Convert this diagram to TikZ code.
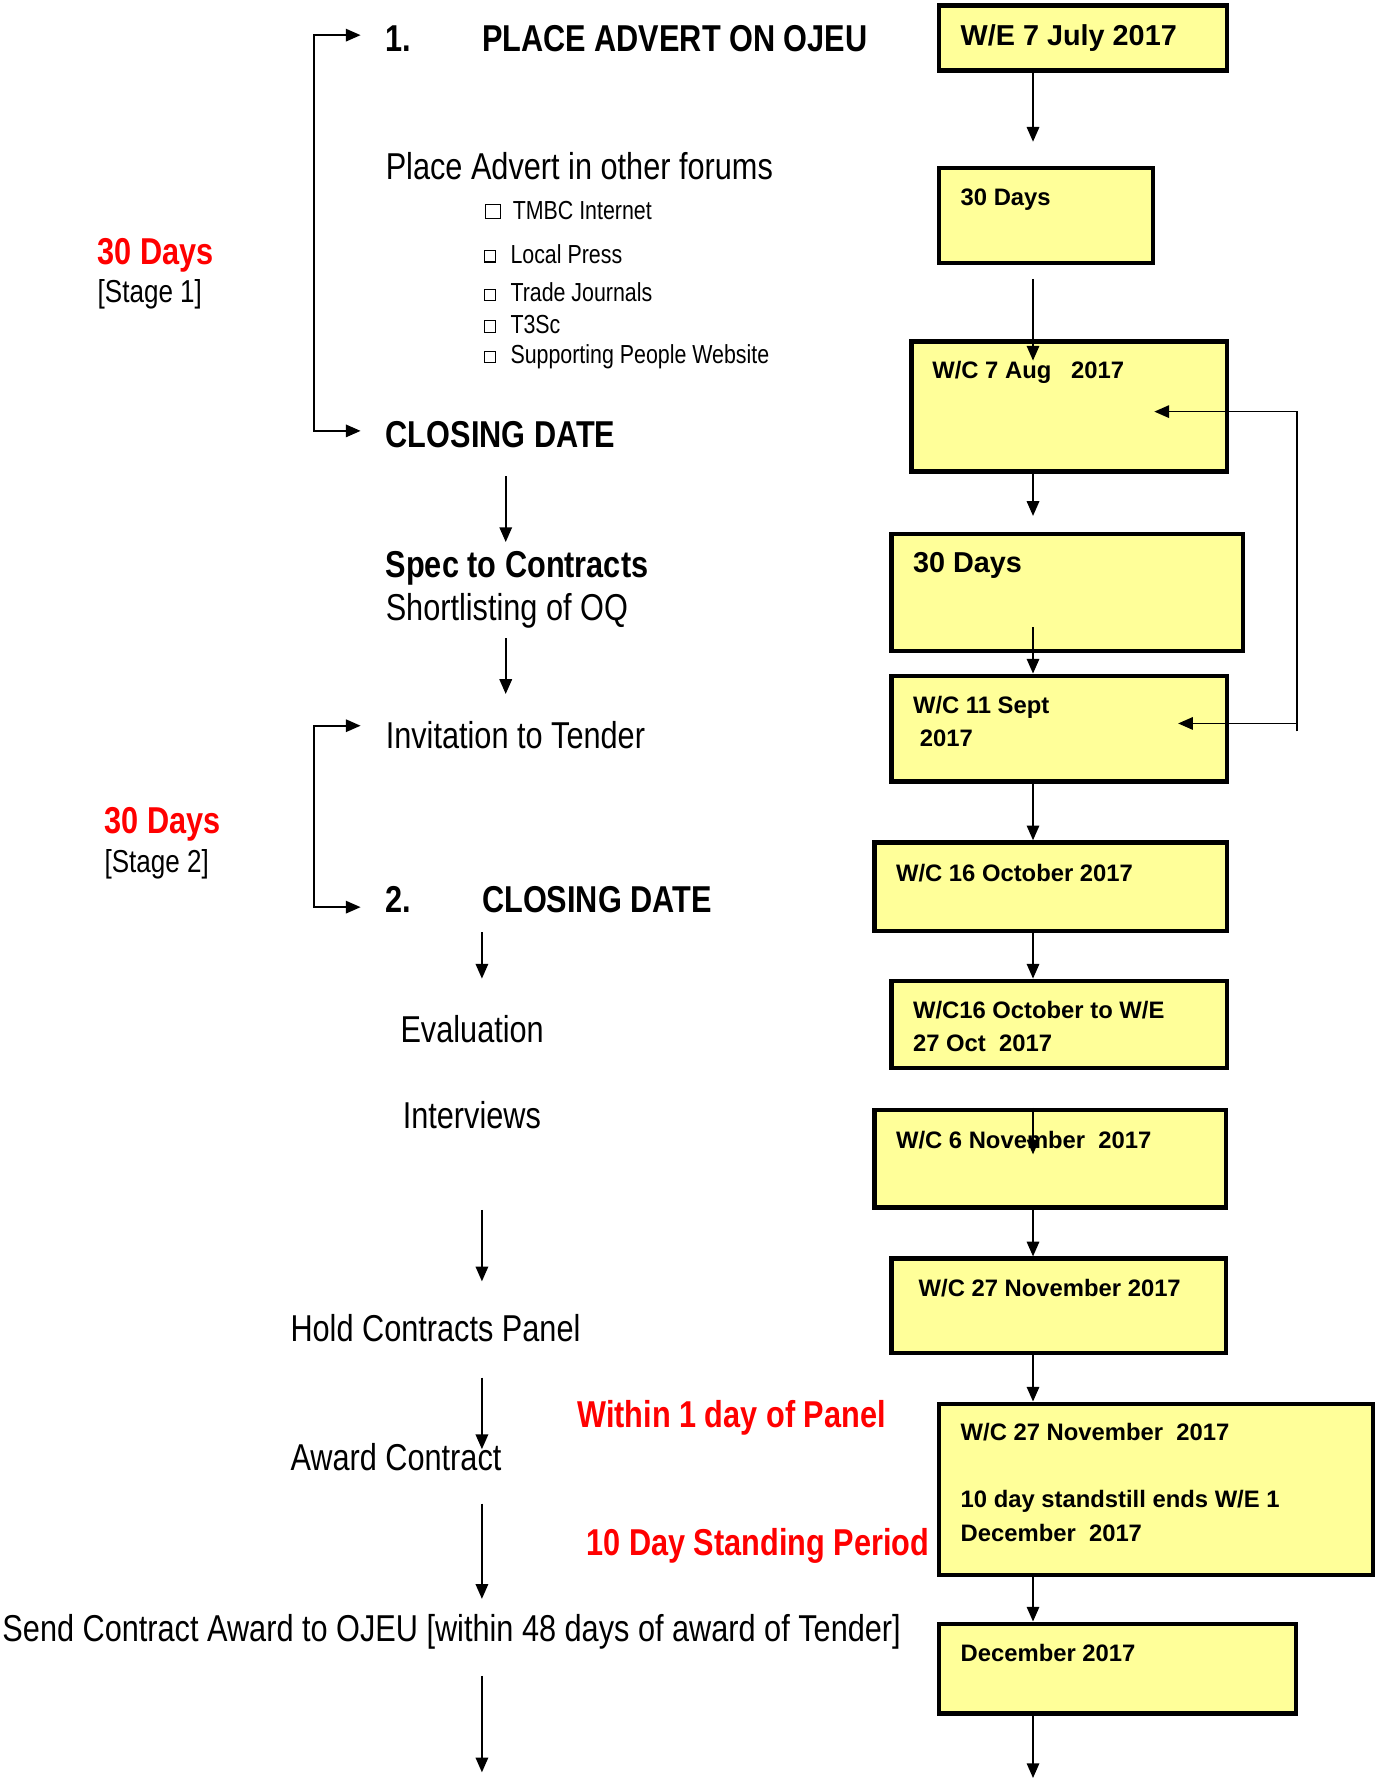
\documentclass[tikz,border=0pt]{standalone}
\usepackage{fontspec}
\setmainfont{Liberation Sans}
\newfontfamily\narrowf[FakeStretch=0.82]{Liberation Sans}
\usetikzlibrary{arrows.meta}
\definecolor{boxyellow}{HTML}{FFFF99}
\definecolor{redlabel}{HTML}{FF0000}
\begin{document}
\begin{tikzpicture}[x=1pt,y=-1pt,
  box/.style={draw, line width=4pt, fill=boxyellow, inner sep=0pt},
  btxt/.style={font=\bfseries\fontsize{21}{25}\selectfont, anchor=base west, inner sep=0pt},
  btxtL/.style={font=\bfseries\fontsize{25.4}{30}\selectfont, anchor=base west, inner sep=0pt},
  head/.style={font=\narrowf\bfseries\fontsize{33}{38}\selectfont, anchor=base west, inner sep=0pt},
  plain/.style={font=\narrowf\fontsize{33}{38}\selectfont, anchor=base west, inner sep=0pt},
  itemtxt/.style={font=\narrowf\fontsize{23}{27}\selectfont, anchor=base west, inner sep=0pt},
  stagetxt/.style={font=\narrowf\fontsize{28}{32}\selectfont, anchor=base west, inner sep=0pt},
  redhead/.style={head, text=redlabel},
  chk/.style={draw, line width=1pt, inner sep=0pt, fill=white},
  arr/.style={line width=1.5pt, -{Triangle[length=13pt,width=11pt]}},
  bracket/.style={line width=1.5pt, {Triangle[length=13pt,width=11pt]}-{Triangle[length=13pt,width=11pt]}}
]
\useasboundingbox (0,0) rectangle (1213,1568);

% ---------------- right column boxes ----------------
\node[box, minimum width=254pt, minimum height=57pt]  (b1)  at (955,33.5)    {};
\node[box, minimum width=189pt, minimum height=84pt]  (b2)  at (922.5,190)   {};
\node[box, minimum width=278pt, minimum height=115pt] (b3)  at (943,358.5)   {};
\node[box, minimum width=310pt, minimum height=103pt] (b4)  at (941,522.5)   {};
\node[box, minimum width=296pt, minimum height=93pt]  (b5)  at (934,642.5)   {};
\node[box, minimum width=311pt, minimum height=78pt]  (b6)  at (926.5,782)   {};
\node[box, minimum width=296pt, minimum height=77pt]  (b7)  at (934,903.5)   {};
\node[box, minimum width=310pt, minimum height=86pt]  (b8)  at (926,1022)    {};
\node[box, minimum width=295pt, minimum height=83pt]  (b9)  at (933.5,1151.5){};
\node[box, minimum width=383pt, minimum height=151pt] (b10) at (1019.5,1313.5){};
\node[box, minimum width=315pt, minimum height=79pt]  (b11) at (985.5,1471.5) {};

% box texts
\node[btxtL] (t1)  at (847,40)     {W/E 7 July 2017};
\node[btxt]  (t2)  at (847,181.5)  {30 Days};
\node[btxt]  (t3)  at (822,333.5)  {W/C 7 Aug\ \ \ 2017};
\node[btxtL] (t4)  at (805,505)    {30 Days};
\node[btxt]  (t5a) at (805,629.5)  {W/C 11 Sept};
\node[btxt]  (t5b) at (811,658.5)  {2017};
\node[btxt]  (t6)  at (790,777.5)  {W/C 16 October 2017};
\node[btxt]  (t7a) at (805,898.5)  {W/C16 October to W/E};
\node[btxt]  (t7b) at (805,927.5)  {27 Oct\ \ 2017};
\node[btxt]  (t8)  at (790,1012.5) {W/C 6 November\ \ 2017};
\node[btxt]  (t9)  at (810,1143.5) {W/C 27 November 2017};
\node[btxt]  (t10a) at (847,1270.5) {W/C 27 November\ \ 2017};
\node[btxt]  (t10b) at (847,1329.5) {10 day standstill ends W/E 1};
\node[btxt]  (t10c) at (847,1359.5) {December\ \ 2017};
\node[btxt]  (t11) at (847,1465.5) {December 2017};

% right column connectors
\coordinate (ax) at (911,0);
\coordinate (r1e) at (911,125);
\coordinate (r2s) at (911,246);
\coordinate (r2e) at (911,318);
\coordinate (r3e) at (911,455);
\coordinate (r4s) at (911,553);
\coordinate (r8e) at (911,1018);
\coordinate (r11e) at (911,1568);
\draw[arr] (b1.south -| ax) -- (r1e);
\draw[arr] (r2s) -- (r2e);
\draw[arr] (b3.south -| ax) -- (r3e);
\draw[arr] (r4s) -- (b5.north -| ax);
\draw[arr] (b5.south -| ax) -- (b6.north -| ax);
\draw[arr] (b6.south -| ax) -- (b7.north -| ax);
\draw[arr] (b8.north -| ax) -- (r8e);
\draw[arr] (b8.south -| ax) -- (b9.north -| ax);
\draw[arr] (b9.south -| ax) -- (b10.north -| ax);
\draw[arr] (b10.south -| ax) -- (b11.north -| ax);
\draw[arr] (b11.south -| ax) -- (r11e);

% feedback loop
\coordinate (fbBot) at (1144,645);
\coordinate (fbCorner) at (1144,363);
\coordinate (fbA) at (1018,363);
\coordinate (fbJ) at (1144,638);
\coordinate (fbB) at (1039,638);
\draw[arr] (fbBot) -- (fbCorner) -- (fbA);
\draw[arr] (fbJ) -- (fbB);

% ---------------- left column ----------------
\node[head]  (n1)    at (340,45)  {1.};
\node[head]  (ojeu)  at (425,45)  {PLACE ADVERT ON OJEU};
\node[plain] (other) at (340,158) {Place Advert in other forums};

\node[chk, minimum size=13pt] (c1) at (434.5,186.5) {};
\node[chk, minimum size=10pt] (c2) at (432,226) {};
\node[chk, minimum size=10pt] (c3) at (432,260) {};
\node[chk, minimum size=10pt] (c4) at (432,288) {};
\node[chk, minimum size=10pt] (c5) at (432,315) {};
\node[itemtxt] (i1) at (452,194) {TMBC Internet};
\node[itemtxt] (i2) at (450,232) {Local Press};
\node[itemtxt] (i3) at (450,266) {Trade Journals};
\node[itemtxt] (i4) at (450,294) {T3Sc};
\node[itemtxt] (i5) at (450,321) {Supporting People Website};

\node[head]  (close1) at (340,395) {CLOSING DATE};
\node[head]  (spec)   at (340,509) {Spec to Contracts};
\node[plain] (short)  at (340,547) {Shortlisting of OQ};
\node[plain] (itt)    at (340,660) {Invitation to Tender};
\node[head]  (n2)     at (340,805) {2.};
\node[head]  (close2) at (425,805) {CLOSING DATE};
\node[plain] (eval)   at (353,919) {Evaluation};
\node[plain] (interv) at (355,995) {Interviews};
\node[plain] (hold)   at (256,1183) {Hold Contracts Panel};
\node[plain] (award)  at (256,1297) {Award Contract};
\node[plain] (send)   at (2,1448)  {Send Contract Award to OJEU [within 48 days of award of Tender]};

% red labels
\node[redhead]  (d1) at (86,233)  {30 Days};
\node[stagetxt] (s1) at (86,267)  {[Stage 1]};
\node[redhead]  (d2) at (92,735)  {30 Days};
\node[stagetxt] (s2) at (92,769)  {[Stage 2]};
\node[redhead]  (within) at (509,1259) {Within 1 day of Panel};
\node[redhead]  (stand)  at (517,1372) {10 Day Standing Period};

% brackets
\coordinate (k1a) at (318,31);
\coordinate (k1b) at (318,380);
\coordinate (k2a) at (318,640);
\coordinate (k2b) at (318,800);
\draw[bracket] (k1a) -- (277,31) -- (277,380) -- (k1b);
\draw[bracket] (k2a) -- (277,640) -- (277,800) -- (k2b);

% left column connectors
\coordinate (l1s) at (446,420);  \coordinate (l1e) at (446,478);
\coordinate (l2s) at (446,563);  \coordinate (l2e) at (446,612);
\coordinate (l3s) at (425,822);  \coordinate (l3e) at (425,863);
\coordinate (l4s) at (425,1067); \coordinate (l4e) at (425,1130);
\coordinate (l5s) at (425,1215); \coordinate (l5e) at (425,1278);
\coordinate (l6s) at (425,1326); \coordinate (l6e) at (425,1410);
\coordinate (l7s) at (425,1478); \coordinate (l7e) at (425,1563);
\draw[arr] (l1s) -- (l1e);
\draw[arr] (l2s) -- (l2e);
\draw[arr] (l3s) -- (l3e);
\draw[arr] (l4s) -- (l4e);
\draw[arr] (l5s) -- (l5e);
\draw[arr] (l6s) -- (l6e);
\draw[arr] (l7s) -- (l7e);
\end{tikzpicture}
\end{document}
